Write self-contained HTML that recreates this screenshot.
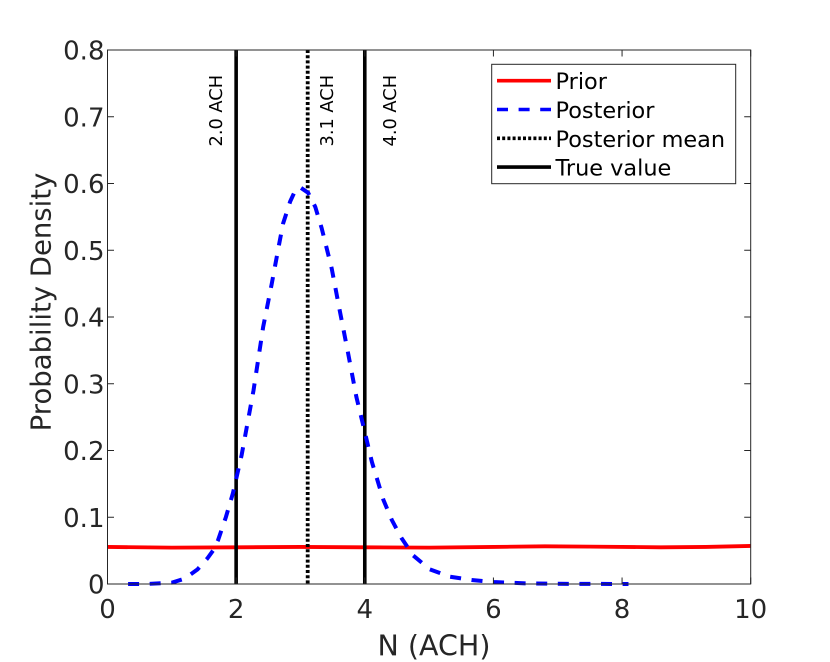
<!DOCTYPE html>
<html lang="en">
<head>
<meta charset="utf-8">
<title>Probability density of N (ACH)</title>
<style>
html,body{margin:0;padding:0;background:#fff;width:830px;height:662px;overflow:hidden}
svg{display:block;filter:blur(0.35px)}
text{font-family:"DejaVu Sans","Liberation Sans",sans-serif}
</style>
</head>
<body>
<svg id="chart" width="830" height="662" viewBox="0 0 830 662" xmlns="http://www.w3.org/2000/svg"></svg>
<script>
const xTicks = [0, 2, 4, 6, 8, 10];
const yTicks = [0, 0.1, 0.2, 0.3, 0.4, 0.5, 0.6, 0.7, 0.8];
const yTickLabels = ['0', '0.1', '0.2', '0.3', '0.4', '0.5', '0.6', '0.7', '0.8'];
const priorN = [0, 1, 2, 3, 4, 5, 6, 6.8, 7.5, 8.6, 9.3, 10];
const priorDensity = [0.0555, 0.0545, 0.055, 0.0555, 0.055, 0.0545, 0.0555, 0.0565, 0.056, 0.055, 0.0555, 0.057];
const posteriorN = [0.32, 0.6, 1.0, 1.2, 1.4, 1.55, 1.64, 1.72, 1.84, 1.95, 2.085, 2.27, 2.42, 2.55, 2.67, 2.73, 2.84, 2.93, 3.0, 3.12, 3.23, 3.33, 3.485, 3.61, 3.74, 3.87, 3.98, 4.11, 4.29, 4.42, 4.57, 4.75, 5.01, 5.32, 5.66, 6.0, 6.5, 7.0, 8.1];
const posteriorDensity = [0, 0, 0.002, 0.008, 0.022, 0.038, 0.05, 0.066, 0.1, 0.136, 0.193, 0.29, 0.385, 0.448, 0.51, 0.54, 0.573, 0.592, 0.594, 0.586, 0.565, 0.533, 0.473, 0.41, 0.346, 0.28, 0.236, 0.183, 0.126, 0.096, 0.069, 0.043, 0.022, 0.011, 0.006, 0.003, 0.001, 0.0003, 0];
const posteriorMean = [3.1];
const trueValues = [2, 4];
const annotationValues = [2.0, 3.1, 4.0];
const annotationOffsets = ['left', 'right', 'right'];
const legendLabels = ['Prior', 'Posterior', 'Posterior mean', 'True value'];

const NS = 'http://www.w3.org/2000/svg';
const svg = document.getElementById('chart');
const plot = { left: 107.5, right: 750.7, top: 50, bottom: 584 };
const xDomain = [0, 10];
const yDomain = [0, 0.8];
const xScale = v => plot.left + (v - xDomain[0]) / (xDomain[1] - xDomain[0]) * (plot.right - plot.left);
const yScale = v => plot.bottom - (v - yDomain[0]) / (yDomain[1] - yDomain[0]) * (plot.bottom - plot.top);
const INK = '#262626';

function el(tag, attrs, text) {
  const node = document.createElementNS(NS, tag);
  for (const k in attrs) node.setAttribute(k, attrs[k]);
  if (text !== undefined) node.textContent = text;
  svg.appendChild(node);
  return node;
}
function pathOf(xs, ys) {
  return xs.map((x, i) => (i ? 'L' : 'M') + xScale(x).toFixed(2) + ' ' + yScale(ys[i]).toFixed(2)).join(' ');
}

// Series lines
const prior = el('path', { d: pathOf(priorN, priorDensity), fill: 'none', stroke: '#ff0000', 'stroke-width': 3.8 });



trueValues.forEach(v => {
  const l = el('line', { x1: xScale(v), x2: xScale(v), y1: plot.top, y2: plot.bottom, stroke: '#000', 'stroke-width': 3.6 });
  
  
});

posteriorMean.forEach(v => {
  const l = el('line', { x1: xScale(v) + 0.8, x2: xScale(v) + 0.8, y1: plot.top, y2: plot.bottom, stroke: '#000', 'stroke-width': 3.8, 'stroke-dasharray': '3 2.2' });
  
  
});

const posterior = el('path', { d: pathOf(posteriorN, posteriorDensity), fill: 'none', stroke: '#0000ff', 'stroke-width': 4, 'stroke-dasharray': '11 10.6' });



// Axes box
const box = el('rect', { x: plot.left, y: plot.top, width: plot.right - plot.left, height: plot.bottom - plot.top, fill: 'none', stroke: INK, 'stroke-width': 1 });



// Ticks
xTicks.forEach(v => {
  const x = xScale(v);
  const t1 = el('line', { x1: x, x2: x, y1: plot.bottom, y2: plot.bottom - 6.5, stroke: INK, 'stroke-width': 1 });
  
  
  const t2 = el('line', { x1: x, x2: x, y1: plot.top, y2: plot.top + 6.5, stroke: INK, 'stroke-width': 1 });
  
  
  const lb = el('text', { x: x, y: 618, 'text-anchor': 'middle', 'font-size': 26, fill: INK }, String(v));
  
  
});
yTicks.forEach((v, i) => {
  const y = yScale(v);
  const t1 = el('line', { x1: plot.left, x2: plot.left + 6.5, y1: y, y2: y, stroke: INK, 'stroke-width': 1 });
  
  
  const t2 = el('line', { x1: plot.right, x2: plot.right - 6.5, y1: y, y2: y, stroke: INK, 'stroke-width': 1 });
  
  
  const lb = el('text', { x: 104.5, y: y + 9.5, 'text-anchor': 'end', 'font-size': 26, fill: INK }, yTickLabels[i]);
  
  
});

// Axis titles
const xTitle = el('text', { x: 434, y: 655.5, 'text-anchor': 'middle', 'font-size': 28.5, fill: INK }, 'N (ACH)');


const yTitle = el('text', { x: 0, y: 0, 'text-anchor': 'middle', 'font-size': 27.5, fill: INK, transform: 'translate(50.5 302) rotate(-90)' }, 'Probability Density');



// Value annotations
annotationValues.forEach((v, i) => {
  const bx = xScale(v) + (annotationOffsets[i] === 'left' ? -14 : 31 - (i === 2 ? 0 : 5));
  const a = el('text', { x: 0, y: 0, 'font-size': 17.8, fill: '#000', transform: 'translate(' + bx + ' 146.5) rotate(-90)' }, v.toFixed(1) + ' ACH');
  
  
});

// Legend
const legendBox = el('rect', { x: 491.7, y: 64.3, width: 244, height: 119.4, fill: '#fff', stroke: INK, 'stroke-width': 1 });


const legendStyles = [
  { stroke: '#ff0000', dash: 'none' },
  { stroke: '#0000ff', dash: '11 10.6' },
  { stroke: '#000', dash: '3 2.2' },
  { stroke: '#000', dash: 'none' }
];
legendLabels.forEach((label, i) => {
  const y = 80.7 + i * 28.8;
  const s = el('line', { x1: 497, x2: 551, y1: y, y2: y, stroke: legendStyles[i].stroke, 'stroke-width': 3.6, 'stroke-dasharray': legendStyles[i].dash });
  
  
  const t = el('text', { x: 555.5, y: y + 8.5, 'font-size': 22.4, fill: '#000' }, label);
  
  
});
</script>
</body>
</html>
